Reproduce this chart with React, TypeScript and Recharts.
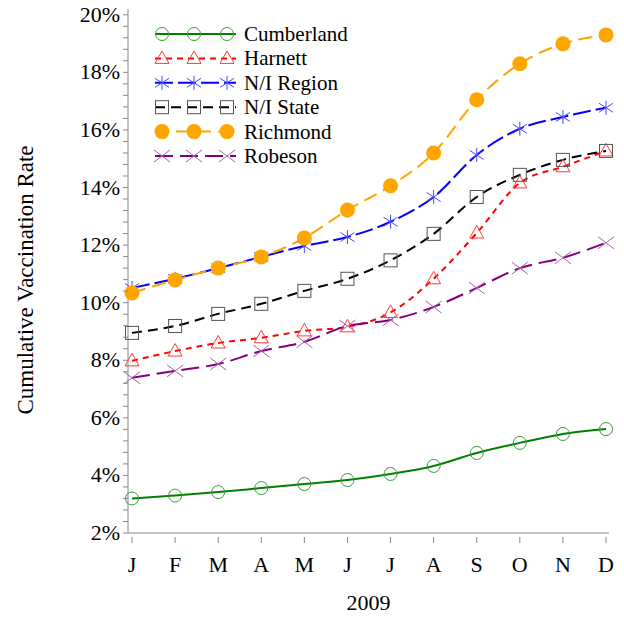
import { LineChart, Line, XAxis, YAxis, Legend } from 'recharts';

const FONT = '"Liberation Serif", "Times New Roman", serif';

const months = ['Jan', 'Feb', 'Mar', 'Apr', 'May', 'Jun', 'Jul', 'Aug', 'Sep', 'Oct', 'Nov', 'Dec'];
const monthLabels = ['J', 'F', 'M', 'A', 'M', 'J', 'J', 'A', 'S', 'O', 'N', 'D'];

const cumberland = [3.2, 3.3, 3.42, 3.56, 3.7, 3.84, 4.05, 4.33, 4.78, 5.13, 5.44, 5.61];
const harnett = [7.98, 8.32, 8.6, 8.78, 9.02, 9.16, 9.66, 10.83, 12.42, 14.16, 14.72, 15.27];
const niRegion = [10.51, 10.83, 11.2, 11.59, 11.97, 12.28, 12.81, 13.67, 15.13, 16.04, 16.45, 16.77];
const niState = [8.95, 9.19, 9.61, 9.96, 10.41, 10.83, 11.47, 12.39, 13.67, 14.44, 14.96, 15.27];
const richmond = [10.34, 10.79, 11.2, 11.59, 12.25, 13.22, 14.06, 15.2, 17.05, 18.3, 18.99, 19.3];
const robeson = [7.39, 7.63, 7.87, 8.32, 8.64, 9.19, 9.4, 9.85, 10.51, 11.2, 11.56, 12.08];

const yMajorTicks = [2, 4, 6, 8, 10, 12, 14, 16, 18, 20];

// 4 minor ticks between each labelled tick
const yTicks: number[] = [];
for (let i = 0; i < yMajorTicks.length - 1; i++) {
  for (let k = 0; k < 5; k++) yTicks.push(yMajorTicks[i] + k * 0.4);
}
yTicks.push(20);

const data = months.map((m, i) => ({
  month: m,
  cumberland: cumberland[i],
  harnett: harnett[i],
  niRegion: niRegion[i],
  niState: niState[i],
  richmond: richmond[i],
  robeson: robeson[i],
}));

type Kind = 'circle' | 'triangle' | 'star' | 'square' | 'dot' | 'x';

const SERIES: { key: string; name: string; color: string; mark: string; dash?: string; kind: Kind }[] = [
  { key: 'cumberland', name: 'Cumberland', color: '#008000', mark: '#3a9a3a', kind: 'circle' },
  { key: 'harnett', name: 'Harnett', color: '#ff0000', mark: '#ff3a3a', dash: '6 5', kind: 'triangle' },
  { key: 'niRegion', name: 'N/I Region', color: '#0000ff', mark: '#4a4aff', dash: '18 5', kind: 'star' },
  { key: 'niState', name: 'N/I State', color: '#000000', mark: '#555555', dash: '10 6', kind: 'square' },
  { key: 'richmond', name: 'Richmond', color: '#ffa500', mark: '#ffa500', dash: '14 7', kind: 'dot' },
  { key: 'robeson', name: 'Robeson', color: '#800080', mark: '#a860a8', dash: '18 7', kind: 'x' },
];

function Marker({ kind, cx, cy, color }: { kind: Kind; cx: number; cy: number; color: string }) {
  switch (kind) {
    case 'circle':
      return <circle cx={cx} cy={cy} r={6.5} fill="none" stroke={color} strokeWidth={1} />;
    case 'triangle':
      return (
        <polygon
          points={`${cx},${cy - 7.5} ${cx - 7},${cy + 5} ${cx + 7},${cy + 5}`}
          fill="none"
          stroke={color}
          strokeWidth={1}
        />
      );
    case 'star':
      return (
        <g stroke={color} strokeWidth={1}>
          <line x1={cx} y1={cy - 7} x2={cx} y2={cy + 7} />
          <line x1={cx - 7} y1={cy - 4.5} x2={cx + 7} y2={cy + 4.5} />
          <line x1={cx - 7} y1={cy + 4.5} x2={cx + 7} y2={cy - 4.5} />
        </g>
      );
    case 'square':
      return <rect x={cx - 6.5} y={cy - 6.5} width={13} height={13} fill="none" stroke={color} strokeWidth={1} />;
    case 'dot':
      return <circle cx={cx} cy={cy} r={7.5} fill={color} stroke="none" />;
    case 'x':
      return (
        <g stroke={color} strokeWidth={1}>
          <line x1={cx - 8} y1={cy - 6} x2={cx + 8} y2={cy + 6} />
          <line x1={cx - 8} y1={cy + 6} x2={cx + 8} y2={cy - 6} />
        </g>
      );
  }
  return null;
}

const textStyle = { fontFamily: FONT };

function YTick(props: any) {
  const { y, payload } = props;
  const v = payload.value;
  const major = Math.abs(v - Math.round(v)) < 1e-6 && Math.round(v) % 2 === 0;
  return (
    <g>
      <line x1={123} x2={128} y1={y} y2={y} stroke="#888" strokeWidth={1} />
      {major && (
        <text x={120} y={y} dy={7} textAnchor="end" fontSize={22} style={textStyle} fill="#000">
          {`${Math.round(v)}%`}
        </text>
      )}
    </g>
  );
}

function XTick(props: any) {
  const { x, payload } = props;
  return (
    <g>
      <line x1={x} x2={x} y1={537} y2={543} stroke="#888" strokeWidth={1} />
      <text x={x} y={572} textAnchor="middle" fontSize={22} style={textStyle} fill="#000">
        {monthLabels[months.indexOf(payload.value)]}
      </text>
    </g>
  );
}

function YLabel() {
  return (
    <text
      x={25}
      y={280}
      transform="rotate(-90 25 280)"
      textAnchor="middle"
      dominantBaseline="central"
      fontSize={23}
      style={textStyle}
      fill="#000"
    >
      Cumulative Vaccination Rate
    </text>
  );
}

function XLabel(props: any) {
  const vb = props.viewBox || { x: 128, width: 481 };
  return (
    <text x={vb.x + vb.width / 2} y={610} textAnchor="middle" fontSize={22} style={textStyle} fill="#000">
      2009
    </text>
  );
}

function LegendBox() {
  return (
    <svg width={240} height={150} style={{ display: 'block', fontFamily: FONT }}>
      {SERIES.map((s, i) => {
        const y = 14 + i * 24.4;
        return (
          <g key={s.key}>
            <line x1={5} x2={86} y1={y} y2={y} stroke={s.color} strokeWidth={2} strokeDasharray={s.dash} />
            {[12, 44, 77].map((x) => (
              <Marker key={x} kind={s.kind} cx={x} cy={y} color={s.mark} />
            ))}
            <text x={94} y={y} dy={7} fontSize={21} style={textStyle} fill="#000">
              {s.name}
            </text>
          </g>
        );
      })}
    </svg>
  );
}

export default function App() {
  return (
    <div style={{ position: 'absolute', left: 0, top: 0, background: '#fff', fontFamily: FONT }}>
      <LineChart width={624} height={624} data={data} margin={{ top: 9, right: 15, left: 0, bottom: 0 }}>
        <XAxis
          dataKey="month"
          height={91}
          padding={{ left: 4, right: 3 }}
          axisLine={{ stroke: '#888' }}
          tickLine={false}
          tick={<XTick />}
          interval={0}
          label={<XLabel />}
        />
        <XAxis xAxisId="top" dataKey="month" orientation="top" height={0} axisLine={{ stroke: '#888' }} tick={false} tickLine={false} padding={{ left: 4, right: 3 }} />
        <YAxis
          width={128}
          domain={[2, 20.2]}
          ticks={yTicks}
          type="number"
          allowDataOverflow
          axisLine={{ stroke: '#888' }}
          tickLine={false}
          tick={<YTick />}
          interval={0}
          label={<YLabel />}
        />
        <YAxis yAxisId="right" orientation="right" width={0} domain={[2, 20.2]} axisLine={{ stroke: '#888' }} tick={false} tickLine={false} />
        <Legend
          layout="vertical"
          align="center"
          verticalAlign="middle"
          content={<LegendBox />}
          wrapperStyle={{ left: 150, top: 20, width: 240, height: 150 }}
        />
        {SERIES.map((s) => (
          <Line
            key={s.key}
            dataKey={s.key}
            name={s.name}
            type="monotone"
            stroke={s.color}
            strokeWidth={2}
            strokeDasharray={s.dash}
            isAnimationActive={false}
            dot={(p: any) => <Marker key={`${s.key}-${p.index}`} kind={s.kind} cx={p.cx} cy={p.cy} color={s.mark} />}
            activeDot={false}
          />
        ))}
      </LineChart>
    </div>
  );
}
